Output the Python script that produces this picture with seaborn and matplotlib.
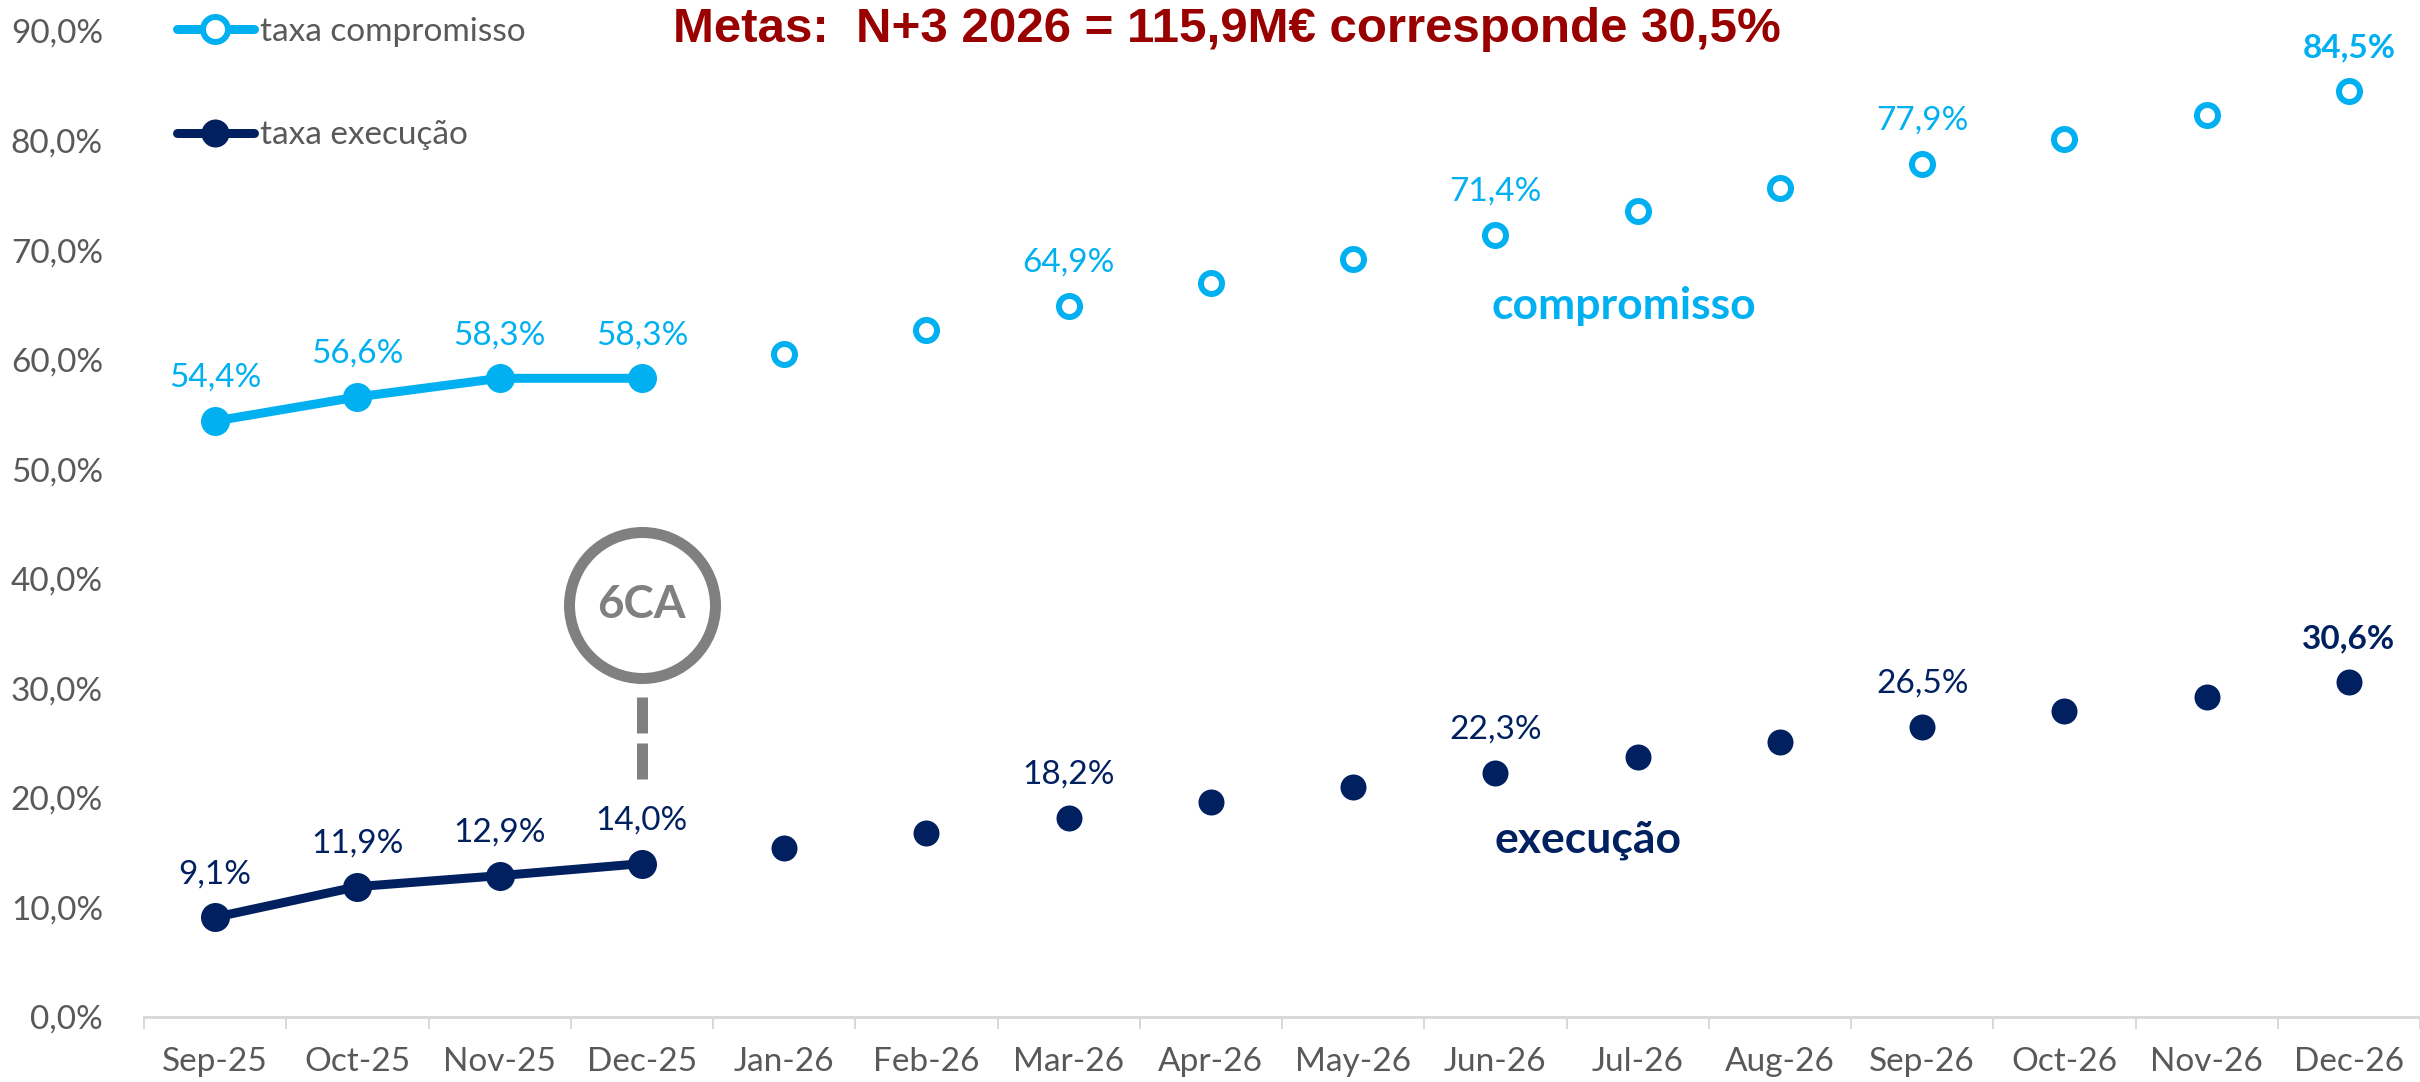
import matplotlib
matplotlib.use("Agg")
import matplotlib.pyplot as plt
import seaborn as sns
import pandas as pd
import numpy as np
from matplotlib import font_manager
from matplotlib.lines import Line2D

# ---------------- data ----------------
months = ["Sep-25", "Oct-25", "Nov-25", "Dec-25", "Jan-26", "Feb-26", "Mar-26", "Apr-26",
          "May-26", "Jun-26", "Jul-26", "Aug-26", "Sep-26", "Oct-26", "Nov-26", "Dec-26"]
compromisso = [54.4, 56.6, 58.3, 58.3, 60.5, 62.7, 64.9, 67.0,
               69.2, 71.4, 73.6, 75.7, 77.9, 80.1, 82.3, 84.5]
execucao = [9.1, 11.9, 12.9, 14.0, 15.4, 16.8, 18.2, 19.6,
            21.0, 22.3, 23.7, 25.1, 26.5, 27.9, 29.2, 30.6]
n_actual = 4  # Sep-25 .. Dec-25 are realised values, rest are targets
labeled_months = ["Sep-25", "Oct-25", "Nov-25", "Dec-25", "Mar-26", "Jun-26", "Sep-26", "Dec-26"]
bold_months = ["Dec-26"]
y_ticks = [0, 10, 20, 30, 40, 50, 60, 70, 80, 90]
title = "Metas:  N+3 2026 = 115,9M€ corresponde 30,5%"
legend_labels = ["taxa compromisso", "taxa execução"]
series_names = ["compromisso", "execução"]
badge_text = "6CA"
badge_month = "Dec-25"
badge_center = 37.6
badge_stem = (29.2, 21.7)

# ---------------- style ----------------
C_LIGHT = "#00B0F0"
C_NAVY = "#002060"
C_GRAY = "#595959"
C_AXIS = "#D9D9D9"
C_TITLE = "#990000"
C_BADGE = "#808080"

sns.set_theme(style="white")
avail = {f.name for f in font_manager.fontManager.ttflist}
base_font = "Lato" if "Lato" in avail else "DejaVu Sans"
title_font = "Liberation Sans Narrow" if "Liberation Sans Narrow" in avail else "Liberation Sans"
plt.rcParams["font.family"] = [base_font, "DejaVu Sans"]

DPI = 100
W, H = 2420, 1082
fig = plt.figure(figsize=(W / DPI, H / DPI), dpi=DPI)
left_px, right_px, top_px, bottom_px = 144, 2420, 31, 1017
ax = fig.add_axes([left_px / W, 1 - bottom_px / H, (right_px - left_px) / W, (bottom_px - top_px) / H])

px = 72 / DPI  # points per pixel
FS = 24

idx = np.arange(len(months))
df = pd.DataFrame({
    "idx": np.concatenate([idx, idx]),
    "mes": months + months,
    "valor": compromisso + execucao,
    "serie": [series_names[0]] * len(months) + [series_names[1]] * len(months),
    "real": list(idx < n_actual) * 2,
})

colors = {series_names[0]: C_LIGHT, series_names[1]: C_NAVY}

# realised segment: thick line with filled markers
for s in series_names:
    d = df[(df.serie == s) & (df.real)]
    sns.lineplot(data=d, x="idx", y="valor", color=colors[s], lw=9 * px,
                 marker="o", markersize=29 * px, markeredgewidth=0,
                 ax=ax, legend=False, zorder=3)

# target points
d = df[(df.serie == series_names[0]) & (~df.real)]
sns.scatterplot(data=d, x="idx", y="valor", ax=ax, s=(21 * px) ** 2,
                facecolor="white", edgecolor=C_LIGHT, linewidth=6 * px, zorder=3, legend=False)
d = df[(df.serie == series_names[1]) & (~df.real)]
sns.scatterplot(data=d, x="idx", y="valor", ax=ax, s=(26 * px) ** 2,
                color=C_NAVY, linewidth=0, zorder=3, legend=False)

# data labels
for s, vals in zip(series_names, [compromisso, execucao]):
    for m in labeled_months:
        i = months.index(m)
        txt = f"{vals[i]:.1f}%".replace(".", ",")
        ax.annotate(txt, (i, vals[i]), xytext=(0, 43 * px), textcoords="offset points",
                    ha="center", va="center", fontsize=FS, color=colors[s],
                    fontweight="bold" if m in bold_months else "normal", zorder=4)

# series name annotations
ax.text(9.9, 64.9, series_names[0], color=C_LIGHT, fontsize=32, fontweight="bold",
        ha="center", va="center")
ax.text(9.65, 16.2, series_names[1], color=C_NAVY, fontsize=32, fontweight="bold",
        ha="center", va="center")

# 6CA badge
bi = months.index(badge_month)
ax.plot([bi], [badge_center], marker="o", markersize=146 * px, markerfacecolor="white",
        markeredgecolor=C_BADGE, markeredgewidth=11 * px, zorder=2, clip_on=False)
ax.text(bi, badge_center, badge_text, color=C_BADGE, fontsize=33, fontweight="bold",
        ha="center", va="center", zorder=3)
ax.plot([bi, bi], list(badge_stem), color=C_BADGE, lw=11 * px, solid_capstyle="butt",
        dashes=(36 / 11, 10 / 11), dash_capstyle="butt", zorder=2)

# axes formatting
ax.set_xlim(-0.5, len(months) - 0.5)
ax.set_ylim(0, 90)
ax.set_yticks(y_ticks)
ax.set_yticklabels([f"{v:.1f}%".replace(".", ",") for v in y_ticks])
ax.set_xticks(idx)
ax.set_xticklabels(months)
ax.set_xticks(np.arange(-0.5, len(months), 1), minor=True)
ax.tick_params(axis="x", which="major", length=0, pad=30 * px, labelsize=FS, labelcolor=C_GRAY)
ax.tick_params(axis="x", which="minor", length=12 * px, width=2 * px, color=C_AXIS, bottom=True)
ax.tick_params(axis="y", length=0, pad=41 * px, labelsize=FS, labelcolor=C_GRAY)
ax.set_xlabel("")
ax.set_ylabel("")
for sp in ["top", "right", "left"]:
    ax.spines[sp].set_visible(False)
ax.spines["bottom"].set_color(C_AXIS)
ax.spines["bottom"].set_linewidth(3 * px)
ax.grid(False)

# legend
handles = [
    Line2D([], [], color=C_LIGHT, lw=9 * px, marker="o", markersize=25 * px,
           markerfacecolor="white", markeredgecolor=C_LIGHT, markeredgewidth=6 * px,
           solid_capstyle="round"),
    Line2D([], [], color=C_NAVY, lw=9 * px, marker="o", markersize=28 * px,
           markerfacecolor=C_NAVY, markeredgewidth=0, solid_capstyle="round"),
]
leg = fig.legend(handles, legend_labels, loc="upper left", bbox_to_anchor=(177 / W, 1 - 17 / H),
                 frameon=False, fontsize=FS, labelcolor=C_GRAY, handlelength=2.3,
                 handletextpad=0.2, labelspacing=2.2, borderpad=0, borderaxespad=0)

fig.text(1227 / W, 1 - 30 / H, title, ha="center", va="center", color=C_TITLE,
         fontsize=35.5, fontweight="bold", family=[title_font, "DejaVu Sans"])

fig.savefig("out.png", dpi=DPI)
